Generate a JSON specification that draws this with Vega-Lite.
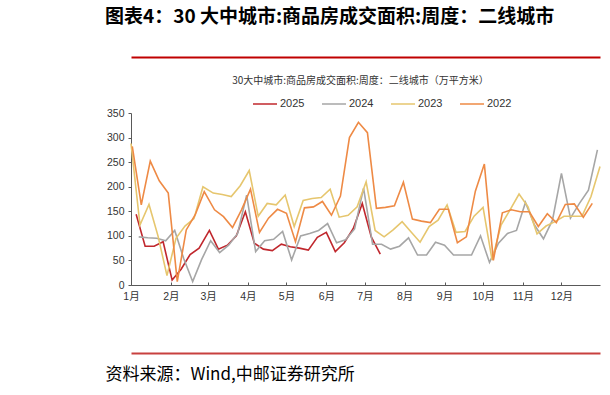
{
  "$schema": "https://vega.github.io/schema/vega-lite/v6.json",
  "width": 469,
  "height": 172,
  "autosize": {"type": "none"},
  "padding": {"left": 131, "top": 113, "right": 10, "bottom": 110},
  "background": "white",
  "title": {
    "text": "图表4：30 大中城市:商品房成交面积:周度：二线城市",
    "anchor": "start",
    "frame": "group",
    "dx": -26,
    "offset": 30,
    "font": "Noto Sans CJK SC",
    "fontSize": 19,
    "fontWeight": "bold",
    "color": "#000000"
  },
  "datasets": {
    "d2025": [
      {"date": "2025-01-05", "year": "2025", "v": 144},
      {"date": "2025-01-12", "year": "2025", "v": 79},
      {"date": "2025-01-19", "year": "2025", "v": 79},
      {"date": "2025-01-26", "year": "2025", "v": 88},
      {"date": "2025-02-02", "year": "2025", "v": 10},
      {"date": "2025-02-09", "year": "2025", "v": 32},
      {"date": "2025-02-16", "year": "2025", "v": 62},
      {"date": "2025-02-23", "year": "2025", "v": 75},
      {"date": "2025-03-02", "year": "2025", "v": 111},
      {"date": "2025-03-09", "year": "2025", "v": 73},
      {"date": "2025-03-16", "year": "2025", "v": 81},
      {"date": "2025-03-23", "year": "2025", "v": 100},
      {"date": "2025-03-30", "year": "2025", "v": 149},
      {"date": "2025-04-06", "year": "2025", "v": 85},
      {"date": "2025-04-13", "year": "2025", "v": 73},
      {"date": "2025-04-20", "year": "2025", "v": 70},
      {"date": "2025-04-27", "year": "2025", "v": 83},
      {"date": "2025-05-04", "year": "2025", "v": 78},
      {"date": "2025-05-11", "year": "2025", "v": 75},
      {"date": "2025-05-18", "year": "2025", "v": 71},
      {"date": "2025-05-25", "year": "2025", "v": 97},
      {"date": "2025-06-01", "year": "2025", "v": 107},
      {"date": "2025-06-08", "year": "2025", "v": 68},
      {"date": "2025-06-15", "year": "2025", "v": 86},
      {"date": "2025-06-22", "year": "2025", "v": 115},
      {"date": "2025-06-29", "year": "2025", "v": 166},
      {"date": "2025-07-06", "year": "2025", "v": 98},
      {"date": "2025-07-13", "year": "2025", "v": 63}
    ],
    "d2024": [
      {"date": "2024-01-07", "year": "2024", "v": 98},
      {"date": "2024-01-14", "year": "2024", "v": 96},
      {"date": "2024-01-21", "year": "2024", "v": 95},
      {"date": "2024-01-28", "year": "2024", "v": 90},
      {"date": "2024-02-04", "year": "2024", "v": 111},
      {"date": "2024-02-11", "year": "2024", "v": 54},
      {"date": "2024-02-18", "year": "2024", "v": 7},
      {"date": "2024-02-25", "year": "2024", "v": 52},
      {"date": "2024-03-03", "year": "2024", "v": 90},
      {"date": "2024-03-10", "year": "2024", "v": 66},
      {"date": "2024-03-17", "year": "2024", "v": 81},
      {"date": "2024-03-24", "year": "2024", "v": 105},
      {"date": "2024-03-31", "year": "2024", "v": 183},
      {"date": "2024-04-07", "year": "2024", "v": 68},
      {"date": "2024-04-14", "year": "2024", "v": 90},
      {"date": "2024-04-21", "year": "2024", "v": 93},
      {"date": "2024-04-28", "year": "2024", "v": 109},
      {"date": "2024-05-05", "year": "2024", "v": 51},
      {"date": "2024-05-12", "year": "2024", "v": 100},
      {"date": "2024-05-19", "year": "2024", "v": 105},
      {"date": "2024-05-26", "year": "2024", "v": 111},
      {"date": "2024-06-02", "year": "2024", "v": 125},
      {"date": "2024-06-09", "year": "2024", "v": 86},
      {"date": "2024-06-16", "year": "2024", "v": 92},
      {"date": "2024-06-23", "year": "2024", "v": 114},
      {"date": "2024-06-30", "year": "2024", "v": 197},
      {"date": "2024-07-07", "year": "2024", "v": 83},
      {"date": "2024-07-14", "year": "2024", "v": 83},
      {"date": "2024-07-21", "year": "2024", "v": 73},
      {"date": "2024-07-28", "year": "2024", "v": 79},
      {"date": "2024-08-04", "year": "2024", "v": 96},
      {"date": "2024-08-11", "year": "2024", "v": 61},
      {"date": "2024-08-18", "year": "2024", "v": 61},
      {"date": "2024-08-25", "year": "2024", "v": 87},
      {"date": "2024-09-01", "year": "2024", "v": 81},
      {"date": "2024-09-08", "year": "2024", "v": 61},
      {"date": "2024-09-15", "year": "2024", "v": 61},
      {"date": "2024-09-22", "year": "2024", "v": 61},
      {"date": "2024-09-29", "year": "2024", "v": 100},
      {"date": "2024-10-06", "year": "2024", "v": 46},
      {"date": "2024-10-13", "year": "2024", "v": 85},
      {"date": "2024-10-20", "year": "2024", "v": 105},
      {"date": "2024-10-27", "year": "2024", "v": 111},
      {"date": "2024-11-03", "year": "2024", "v": 168},
      {"date": "2024-11-10", "year": "2024", "v": 122},
      {"date": "2024-11-17", "year": "2024", "v": 94},
      {"date": "2024-11-24", "year": "2024", "v": 132},
      {"date": "2024-12-01", "year": "2024", "v": 227},
      {"date": "2024-12-08", "year": "2024", "v": 136},
      {"date": "2024-12-15", "year": "2024", "v": 166},
      {"date": "2024-12-22", "year": "2024", "v": 193},
      {"date": "2024-12-29", "year": "2024", "v": 275}
    ],
    "d2023": [
      {"date": "2023-01-01", "year": "2023", "v": 288},
      {"date": "2023-01-08", "year": "2023", "v": 122},
      {"date": "2023-01-15", "year": "2023", "v": 164},
      {"date": "2023-01-22", "year": "2023", "v": 100},
      {"date": "2023-01-29", "year": "2023", "v": 19},
      {"date": "2023-02-05", "year": "2023", "v": 95},
      {"date": "2023-02-12", "year": "2023", "v": 120},
      {"date": "2023-02-19", "year": "2023", "v": 135},
      {"date": "2023-02-26", "year": "2023", "v": 200},
      {"date": "2023-03-05", "year": "2023", "v": 187},
      {"date": "2023-03-12", "year": "2023", "v": 184},
      {"date": "2023-03-19", "year": "2023", "v": 180},
      {"date": "2023-03-26", "year": "2023", "v": 202},
      {"date": "2023-04-02", "year": "2023", "v": 233},
      {"date": "2023-04-09", "year": "2023", "v": 140},
      {"date": "2023-04-16", "year": "2023", "v": 166},
      {"date": "2023-04-23", "year": "2023", "v": 163},
      {"date": "2023-04-30", "year": "2023", "v": 183},
      {"date": "2023-05-07", "year": "2023", "v": 119},
      {"date": "2023-05-14", "year": "2023", "v": 172},
      {"date": "2023-05-21", "year": "2023", "v": 176},
      {"date": "2023-05-28", "year": "2023", "v": 178},
      {"date": "2023-06-04", "year": "2023", "v": 195},
      {"date": "2023-06-11", "year": "2023", "v": 138},
      {"date": "2023-06-18", "year": "2023", "v": 142},
      {"date": "2023-06-25", "year": "2023", "v": 159},
      {"date": "2023-07-02", "year": "2023", "v": 210},
      {"date": "2023-07-09", "year": "2023", "v": 111},
      {"date": "2023-07-16", "year": "2023", "v": 98},
      {"date": "2023-07-23", "year": "2023", "v": 112},
      {"date": "2023-07-30", "year": "2023", "v": 129},
      {"date": "2023-08-06", "year": "2023", "v": 108},
      {"date": "2023-08-13", "year": "2023", "v": 87},
      {"date": "2023-08-20", "year": "2023", "v": 119},
      {"date": "2023-08-27", "year": "2023", "v": 132},
      {"date": "2023-09-03", "year": "2023", "v": 163},
      {"date": "2023-09-10", "year": "2023", "v": 107},
      {"date": "2023-09-17", "year": "2023", "v": 109},
      {"date": "2023-09-24", "year": "2023", "v": 140},
      {"date": "2023-10-01", "year": "2023", "v": 158},
      {"date": "2023-10-08", "year": "2023", "v": 51},
      {"date": "2023-10-15", "year": "2023", "v": 122},
      {"date": "2023-10-22", "year": "2023", "v": 153},
      {"date": "2023-10-29", "year": "2023", "v": 185},
      {"date": "2023-11-05", "year": "2023", "v": 159},
      {"date": "2023-11-12", "year": "2023", "v": 104},
      {"date": "2023-11-19", "year": "2023", "v": 120},
      {"date": "2023-11-26", "year": "2023", "v": 129},
      {"date": "2023-12-03", "year": "2023", "v": 140},
      {"date": "2023-12-10", "year": "2023", "v": 140},
      {"date": "2023-12-17", "year": "2023", "v": 140},
      {"date": "2023-12-24", "year": "2023", "v": 180},
      {"date": "2023-12-31", "year": "2023", "v": 241}
    ],
    "d2022": [
      {"date": "2022-01-02", "year": "2022", "v": 282},
      {"date": "2022-01-09", "year": "2022", "v": 163},
      {"date": "2022-01-16", "year": "2022", "v": 252},
      {"date": "2022-01-23", "year": "2022", "v": 212},
      {"date": "2022-01-30", "year": "2022", "v": 187},
      {"date": "2022-02-06", "year": "2022", "v": 7},
      {"date": "2022-02-13", "year": "2022", "v": 112},
      {"date": "2022-02-20", "year": "2022", "v": 143},
      {"date": "2022-02-27", "year": "2022", "v": 190},
      {"date": "2022-03-06", "year": "2022", "v": 153},
      {"date": "2022-03-13", "year": "2022", "v": 139},
      {"date": "2022-03-20", "year": "2022", "v": 117},
      {"date": "2022-03-27", "year": "2022", "v": 153},
      {"date": "2022-04-03", "year": "2022", "v": 195},
      {"date": "2022-04-10", "year": "2022", "v": 107},
      {"date": "2022-04-17", "year": "2022", "v": 136},
      {"date": "2022-04-24", "year": "2022", "v": 154},
      {"date": "2022-05-01", "year": "2022", "v": 146},
      {"date": "2022-05-08", "year": "2022", "v": 88},
      {"date": "2022-05-15", "year": "2022", "v": 157},
      {"date": "2022-05-22", "year": "2022", "v": 159},
      {"date": "2022-05-29", "year": "2022", "v": 170},
      {"date": "2022-06-05", "year": "2022", "v": 142},
      {"date": "2022-06-12", "year": "2022", "v": 181},
      {"date": "2022-06-19", "year": "2022", "v": 300},
      {"date": "2022-06-26", "year": "2022", "v": 331},
      {"date": "2022-07-03", "year": "2022", "v": 310},
      {"date": "2022-07-10", "year": "2022", "v": 156},
      {"date": "2022-07-17", "year": "2022", "v": 158},
      {"date": "2022-07-24", "year": "2022", "v": 161},
      {"date": "2022-07-31", "year": "2022", "v": 209},
      {"date": "2022-08-07", "year": "2022", "v": 134},
      {"date": "2022-08-14", "year": "2022", "v": 130},
      {"date": "2022-08-21", "year": "2022", "v": 127},
      {"date": "2022-08-28", "year": "2022", "v": 154},
      {"date": "2022-09-04", "year": "2022", "v": 154},
      {"date": "2022-09-11", "year": "2022", "v": 86},
      {"date": "2022-09-18", "year": "2022", "v": 98},
      {"date": "2022-09-25", "year": "2022", "v": 191},
      {"date": "2022-10-02", "year": "2022", "v": 246},
      {"date": "2022-10-09", "year": "2022", "v": 50},
      {"date": "2022-10-16", "year": "2022", "v": 147},
      {"date": "2022-10-23", "year": "2022", "v": 153},
      {"date": "2022-10-30", "year": "2022", "v": 149},
      {"date": "2022-11-06", "year": "2022", "v": 149},
      {"date": "2022-11-13", "year": "2022", "v": 119},
      {"date": "2022-11-20", "year": "2022", "v": 145},
      {"date": "2022-11-27", "year": "2022", "v": 127},
      {"date": "2022-12-04", "year": "2022", "v": 164},
      {"date": "2022-12-11", "year": "2022", "v": 165},
      {"date": "2022-12-18", "year": "2022", "v": 138},
      {"date": "2022-12-25", "year": "2022", "v": 166}
    ]
  },
  "encoding": {
    "y": {
      "field": "v",
      "type": "quantitative",
      "scale": {"domain": [0, 350], "nice": false, "zero": true},
      "axis": {
        "values": [0, 50, 100, 150, 200, 250, 300, 350],
        "title": null,
        "grid": false,
        "domainColor": "#595959",
        "tickColor": "#595959",
        "tickSize": 3,
        "labelPadding": 4,
        "labelFont": "Liberation Sans",
        "labelFontSize": 10.5,
        "labelColor": "#333333"
      }
    },
    "color": {
      "field": "year",
      "type": "nominal",
      "scale": {
        "domain": ["2025", "2024", "2023", "2022"],
        "range": ["#C0272D", "#A6A6A6", "#E6C66E", "#EE8A45"]
      },
      "legend": {
        "orient": "none",
        "legendX": 121,
        "legendY": -22,
        "direction": "horizontal",
        "title": null,
        "symbolType": "stroke",
        "symbolSize": 576,
        "symbolStrokeWidth": 1.5,
        "labelFont": "Liberation Sans",
        "labelFontSize": 11,
        "labelColor": "#333333",
        "labelOffset": 2,
        "columnPadding": 14
      }
    }
  },
  "layer": [
    {
      "data": {"name": "d2025"},
      "mark": {"type": "line", "strokeWidth": 1.6},
      "encoding": {
        "x": {
          "field": "date",
          "type": "temporal",
          "timeUnit": "utcmonthdate",
          "scale": {"domain": [{"year": 2012, "month": 1, "date": 1, "utc": true}, {"year": 2012, "month": 12, "date": 31, "utc": true}]},
          "axis": {
            "orient": "bottom",
            "values": [
              {"year": 2012, "month": 1, "date": 1, "utc": true},
              {"year": 2012, "month": 2, "date": 1, "utc": true},
              {"year": 2012, "month": 3, "date": 1, "utc": true},
              {"year": 2012, "month": 4, "date": 1, "utc": true},
              {"year": 2012, "month": 5, "date": 1, "utc": true},
              {"year": 2012, "month": 6, "date": 1, "utc": true},
              {"year": 2012, "month": 7, "date": 1, "utc": true},
              {"year": 2012, "month": 8, "date": 1, "utc": true},
              {"year": 2012, "month": 9, "date": 1, "utc": true},
              {"year": 2012, "month": 10, "date": 1, "utc": true},
              {"year": 2012, "month": 11, "date": 1, "utc": true},
              {"year": 2012, "month": 12, "date": 1, "utc": true}
            ],
            "format": "%-m月",
            "title": null,
            "grid": false,
            "domainColor": "#595959",
            "tickColor": "#595959",
            "tickSize": -3,
            "labelPadding": 9,
            "labelFlush": false,
            "labelOverlap": false,
            "labelFont": "Liberation Sans, Noto Sans CJK SC",
            "labelFontSize": 10.5,
            "labelColor": "#333333"
          }
        }
      }
    },
    {
      "data": {"name": "d2024"},
      "mark": {"type": "line", "strokeWidth": 1.6},
      "encoding": {
        "x": {
          "field": "date",
          "type": "temporal",
          "timeUnit": "utcmonthdate",
          "scale": {"domain": [{"year": 2012, "month": 1, "date": 1, "utc": true}, {"year": 2012, "month": 12, "date": 31, "utc": true}]},
          "axis": {
            "orient": "top",
            "offset": 56,
            "domain": true,
            "domainColor": "#C00000",
            "domainWidth": 2,
            "ticks": false,
            "labels": false,
            "grid": false,
            "title": "30大中城市:商品房成交面积:周度：二线城市（万平方米）",
            "titleFont": "Noto Sans CJK SC",
            "titleFontSize": 10,
            "titleFontWeight": "normal",
            "titleColor": "#333333",
            "titleX": 229,
            "titleY": 23,
            "titleAlign": "center",
            "titleBaseline": "middle"
          }
        }
      }
    },
    {
      "data": {"name": "d2023"},
      "mark": {"type": "line", "strokeWidth": 1.6},
      "encoding": {
        "x": {
          "field": "date",
          "type": "temporal",
          "timeUnit": "utcmonthdate",
          "scale": {"domain": [{"year": 2012, "month": 1, "date": 1, "utc": true}, {"year": 2012, "month": 12, "date": 31, "utc": true}]},
          "axis": {
            "orient": "bottom",
            "offset": 68,
            "domain": true,
            "domainColor": "#C8403F",
            "domainWidth": 2,
            "ticks": false,
            "labels": false,
            "grid": false,
            "title": "资料来源：Wind,中邮证券研究所",
            "titleFont": "Noto Sans CJK SC",
            "titleFontSize": 17,
            "titleFontWeight": "normal",
            "titleColor": "#000000",
            "titleX": -26,
            "titleY": 21,
            "titleAlign": "left",
            "titleBaseline": "middle"
          }
        }
      }
    },
    {
      "data": {"name": "d2022"},
      "mark": {"type": "line", "strokeWidth": 1.6},
      "encoding": {
        "x": {
          "field": "date",
          "type": "temporal",
          "timeUnit": "utcmonthdate",
          "scale": {"domain": [{"year": 2012, "month": 1, "date": 1, "utc": true}, {"year": 2012, "month": 12, "date": 31, "utc": true}]},
          "axis": null
        }
      }
    }
  ],
  "resolve": {"axis": {"x": "independent"}},
  "config": {
    "view": {"stroke": null}
  }
}
